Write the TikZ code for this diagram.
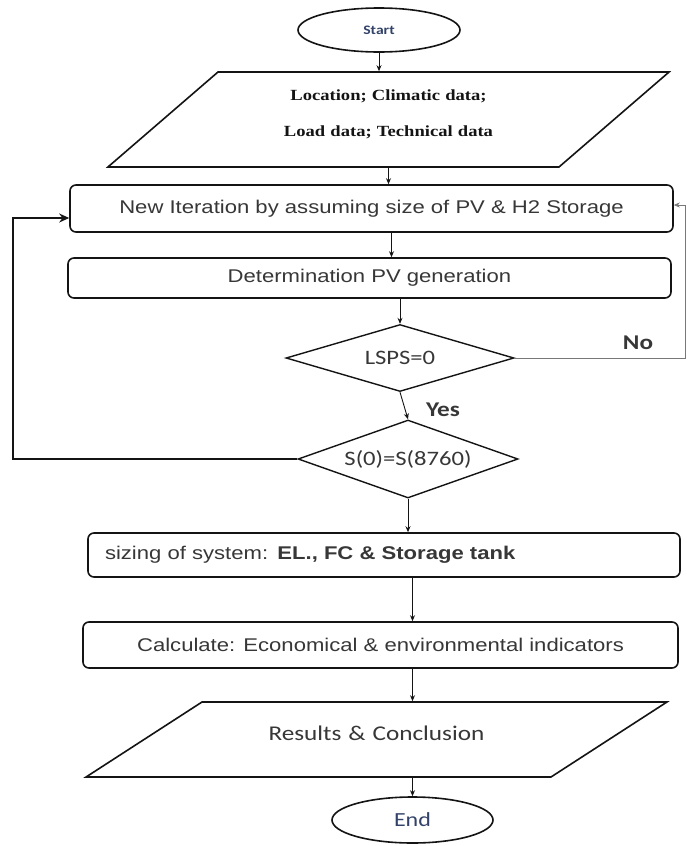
\documentclass[tikz,border=0pt]{standalone}
\usepackage{fontspec}
\newfontfamily\arialfont{Liberation Sans}[FakeStretch=1.2]
\newfontfamily\calibrifont{Carlito}[FakeStretch=1.2]
\newfontfamily\timesfont{Liberation Serif}[FakeStretch=1.2]
\usepackage{tikz}
\usetikzlibrary{
    arrows.meta,
    positioning,
    shapes.geometric
}
\definecolor{ink}{RGB}{20,20,20}
\definecolor{boxtext}{RGB}{55,55,55}
\definecolor{termtext}{RGB}{50,66,104}
\definecolor{muted}{RGB}{120,120,120}
\tikzset{
    line cap=round,
    line join=round,
    base node/.style={
        draw=ink,
        line width=1.6pt,
        fill=white,
        inner sep=0pt,
        text=boxtext,
        align=center
    },
    terminal/.style={
        base node,
        ellipse,
        font=\calibrifont\fontsize{20}{22}\selectfont,
        text=termtext
    },
    io/.style={
        base node,
        trapezium
    },
    process/.style={
        base node,
        rectangle,
        rounded corners=6pt,
        font=\arialfont\fontsize{18.4}{20}\selectfont
    },
    decision/.style={
        base node,
        diamond,
        line width=1.4pt,
        font=\calibrifont\fontsize{20.5}{22}\selectfont
    },
    flowarrow/.style={
        -{Stealth[length=6pt,width=5pt]},
        draw=ink,
        line width=0.9pt
    },
    loopback/.style={
        -{Stealth[length=10pt,width=9pt]},
        draw=ink,
        line width=2pt
    },
    retry/.style={
        -{Stealth[length=6pt,width=5pt]},
        draw=muted,
        line width=0.6pt
    },
    branch/.style={
        font=\calibrifont\bfseries\fontsize{21}{23}\selectfont,
        text=boxtext
    }
}

\begin{document}
\begin{tikzpicture}[x=1pt, y=-1pt]
\useasboundingbox (0,0) rectangle (687,846);

% Main chain
\node[terminal, minimum width=162pt, minimum height=44pt,
      font=\calibrifont\bfseries\fontsize{13}{15}\selectfont] (start) at (379,30) {Start};
\node[io, trapezium left angle=40.8, trapezium right angle=139.2,
      text width=341pt, text height=28pt, text depth=67pt, text=ink,
      font=\timesfont\bfseries\fontsize{15.5}{36}\selectfont] (input) at (388.5,119.5)
      {Location; Climatic data;\\Load data; Technical data};
\node[process, minimum width=603pt, minimum height=47pt] (iter) at (371.5,208.5)
      {New Iteration by assuming size of PV \& H2 Storage};
\node[process, minimum width=603pt, minimum height=40pt] (pvgen) at (369.5,278)
      {Determination PV generation};
\node[decision, aspect=3.4, minimum width=228pt, minimum height=67pt] (lsps) at (400,358) {LSPS=0};
\node[decision, aspect=2.8, minimum width=220pt, minimum height=78pt] (sbal) at (408,459) {S(0)=S(8760)};
\node[process, minimum height=44pt, text width=558pt, inner xsep=17pt, align=left] (sizing) at (384,555)
      {sizing of system: \textbf{EL., FC \& Storage tank}};
\node[process, minimum width=595pt, minimum height=46pt] (calc) at (380.5,645)
      {Calculate: Economical \& environmental indicators};
\node[io, trapezium left angle=32.9, trapezium right angle=147.1,
      text width=349pt, text height=38pt, text depth=37pt,
      font=\calibrifont\fontsize{21}{23}\selectfont] (results) at (376.5,739.5)
      {Results \& Conclusion};
\node[terminal, minimum width=161pt, minimum height=46pt] (end) at (412.5,820) {End};

% Branch labels
\node[branch] (nolabel) at (638,343) {No};
\node[branch] (yeslabel) at (443,410) {Yes};

% Rails for the loops
\coordinate (leftrail) at (13,0);
\coordinate (rightrail) at (685,0);

% Arrows
\draw[flowarrow] (start) -- (start |- input.north);
\draw[flowarrow] (input) -- (input |- iter.north);
\draw[flowarrow] ([xshift=20pt]iter.south) -- ([xshift=20pt]iter.south |- pvgen.north);
\draw[flowarrow] (pvgen.south -| lsps.north) -- (lsps.north);
\draw[flowarrow] (lsps.south) -- (sbal.north);
\draw[flowarrow] (sbal.south) -- (sbal.south |- sizing.north);
\draw[flowarrow] (sizing.south -| end.north) -- (calc.north -| end.north);
\draw[flowarrow] (calc.south -| end.north) -- (results.north -| end.north);
\draw[flowarrow] (results.south -| end.north) -- (end.north);

% Loops back to the iteration box
\draw[loopback] (sbal.west) -- (sbal.west -| leftrail) |- ([yshift=-9.5pt]iter.west);
\draw[retry] (lsps.east) -- (lsps.east -| rightrail) |- ([yshift=3.5pt]iter.east);
\end{tikzpicture}
\end{document}
